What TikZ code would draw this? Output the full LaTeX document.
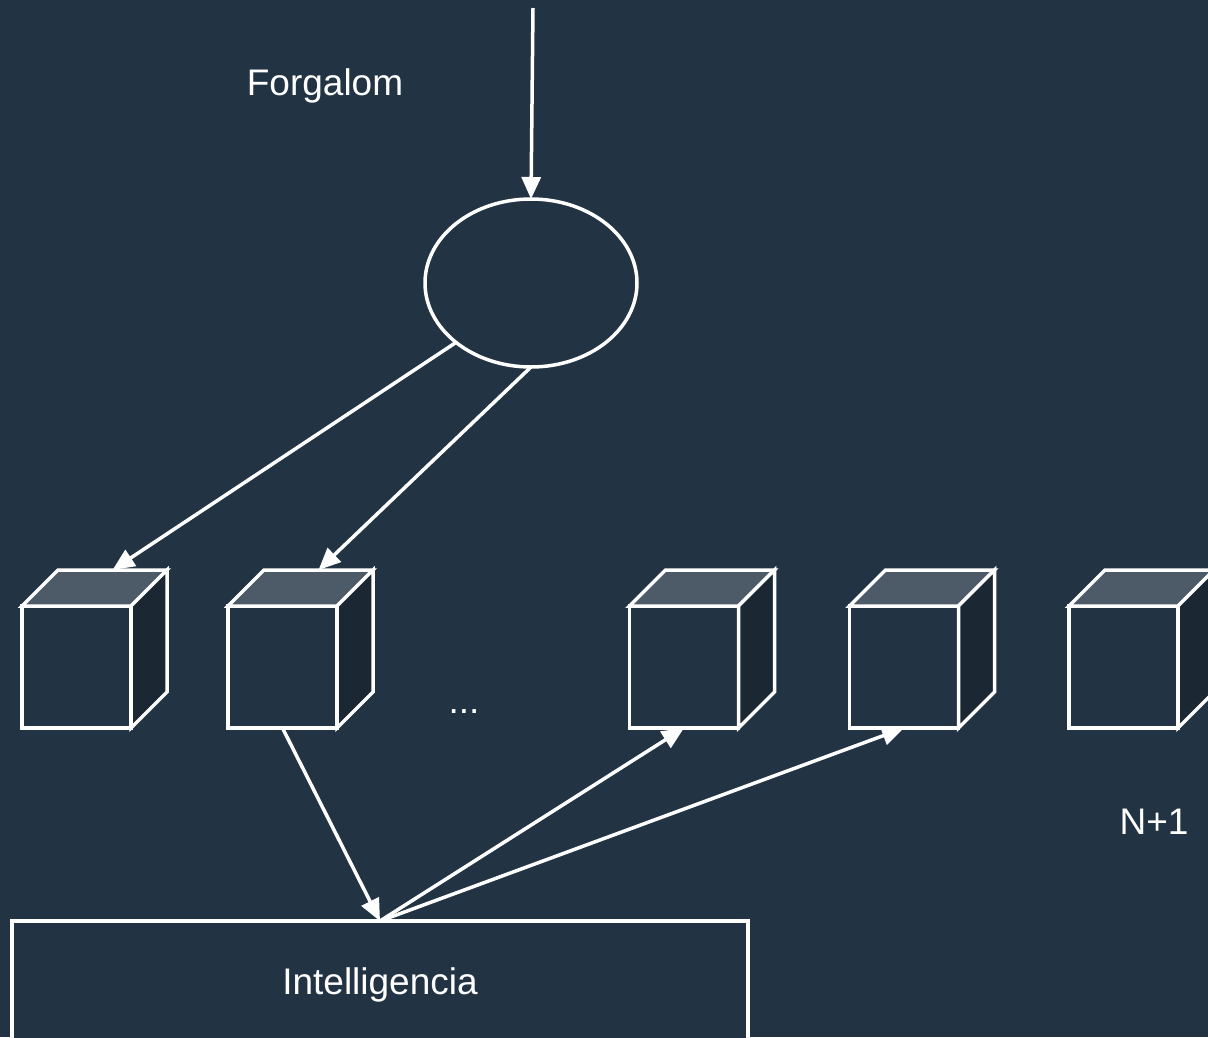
\documentclass[tikz,border=0pt]{standalone}
\usepackage{fontspec}
\setmainfont{Liberation Sans}
\usetikzlibrary{arrows.meta,shapes.geometric,calc}
\definecolor{bg}{HTML}{223344}
\definecolor{topface}{HTML}{4D5A68}
\definecolor{sideface}{HTML}{1B2733}

% one cube: front face as a node, top and side faces drawn from its anchors
\newcommand\drawcube[2]{%
  \node[cubefront] (#1) at (#2,667) {};
  \draw[cubeedge, fill=topface] (#1.north west) -- ++(36,-36)
    -- ($(#1.north east)+(36,-36)$) -- (#1.north east) -- cycle;
  \draw[cubeedge, fill=sideface] (#1.north east) -- ++(36,-36)
    -- ++(0,122) -- (#1.south east) -- cycle;
  \coordinate (#1-top) at ($(#1.north)+(36,-36)$);
}

\begin{document}
\begin{tikzpicture}[x=1pt,y=-1pt,
  every node/.style={text=white, font=\fontsize{37}{44}\selectfont},
  cubefront/.style={draw=white, line width=3.5, fill=bg, minimum width=109,
    minimum height=122, inner sep=0, outer sep=0},
  cubeedge/.style={draw=white, line width=3.5, line join=miter},
  flow/.style={draw=white, line width=3.5,
    -{Triangle[length=22,width=19]}},
  box/.style={draw=white, line width=3.5, fill=bg, minimum width=736,
    minimum height=122, inner sep=0, outer sep=0},
  hub/.style={ellipse, draw=white, line width=3.5, fill=bg, minimum width=212,
    minimum height=168, inner sep=0, outer sep=0}]

\fill[bg] (0,0) rectangle (1208,1037);
\useasboundingbox (0,0) rectangle (1208,1037);
\clip (0,0) rectangle (1208,1037);

% incoming traffic and the distributing node
\coordinate (src) at (533,8);
\node[hub] (ell) at (531,283) {};
\node (forg) at (325,86) {Forgalom};

% server cubes
\drawcube{c1}{76.5}
\drawcube{c2}{282.5}
\drawcube{c3}{684}
\drawcube{c4}{904}
\drawcube{c5}{1123.5}

\node (dots) at (464,712) {...};
\node (n1) at (1154,822) {N+1};

% controller box
\node[box] (intel) at (380,982) {};
\node at ($(intel.center)+(0,3)$) {Intelligencia};

% connectors
\draw[flow] (src) -- (ell.north);
\draw[flow] (ell.south west) -- (c1-top);
\draw[flow] (ell.south) -- (c2-top);
\draw[flow] (c2.south) -- (intel.north);
\draw[flow] (intel.north) -- (c3.south);
\draw[flow] (intel.north) -- (c4.south);
\end{tikzpicture}
\end{document}
